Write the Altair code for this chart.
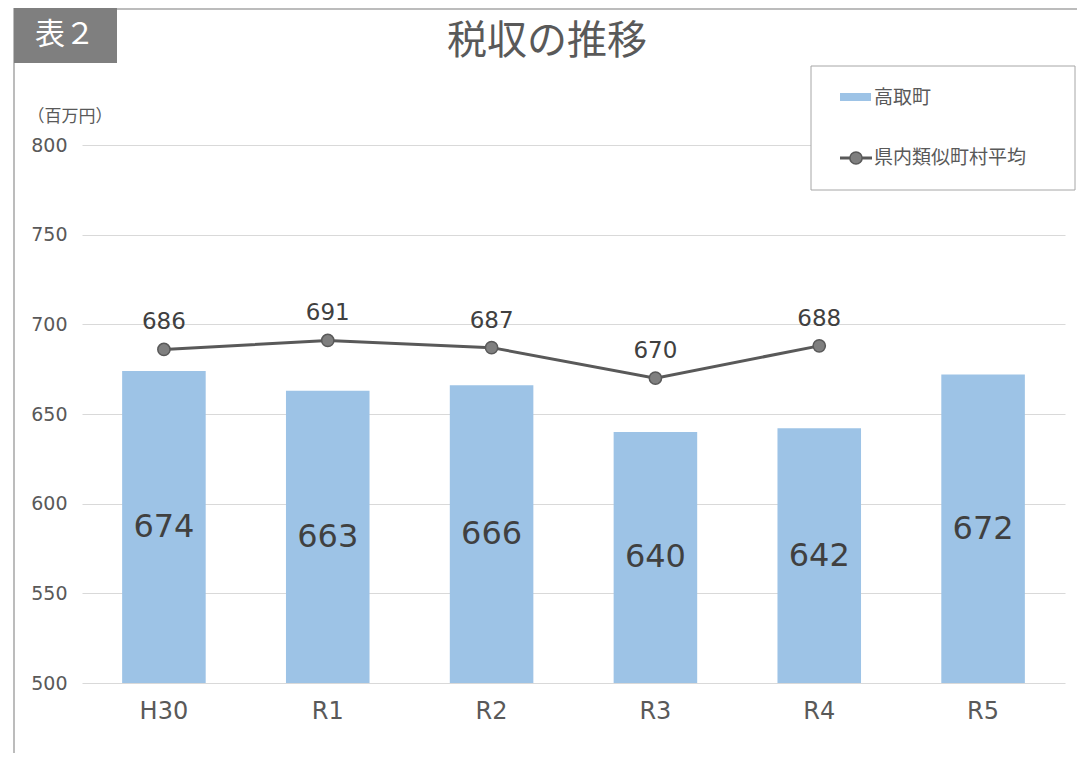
import altair as alt
import pandas as pd

years = ["H30", "R1", "R2", "R3", "R4", "R5"]
town = [674, 663, 666, 640, 642, 672]
avg_years = ["H30", "R1", "R2", "R3", "R4"]
avg = [686, 691, 687, 670, 688]
y_ticks = [500, 550, 600, 650, 700, 750, 800]

FONT = "Noto Sans CJK JP"
NUMFONT = "DejaVu Sans"
GRAY = "#595959"
BAR = "#9DC3E6"

bars_df = pd.DataFrame({"year": years, "value": town})
avg_df = pd.DataFrame({"year": avg_years, "value": avg})
one = pd.DataFrame({"a": [0]})

x_scale = alt.Scale(paddingInner=0.49, paddingOuter=0.245)
y_scale = alt.Scale(domain=[500, 800], nice=False, zero=False)

x_enc = alt.X("year:N", sort=years, scale=x_scale,
              axis=alt.Axis(title=None, labelAngle=0, labelFontSize=24, labelColor=GRAY,
                            labelFont=NUMFONT, labelPadding=16, ticks=False, domain=False,
                            grid=False))
y_enc = alt.Y("value:Q", scale=y_scale,
              axis=alt.Axis(title=None, values=y_ticks, labelFontSize=19, labelColor=GRAY,
                            labelFont=NUMFONT, labelPadding=15, ticks=False, domain=False,
                            gridColor="#D9D9D9", gridWidth=1))
x_plain = alt.X("year:N", sort=years, scale=x_scale)
y_plain = alt.Y("value:Q", scale=y_scale)

bars = alt.Chart(bars_df).mark_bar(color=BAR).encode(x=x_enc, y=y_enc, y2=alt.datum(500))

bar_labels = alt.Chart(bars_df).transform_calculate(
    mid="(datum.value + 500) / 2"
).mark_text(fontSize=32, color="#404040", font=NUMFONT, baseline="middle").encode(
    x=x_plain,
    y=alt.Y("mid:Q", scale=y_scale),
    text="value:Q",
)

line = alt.Chart(avg_df).mark_line(color=GRAY, strokeWidth=3).encode(x=x_plain, y=y_plain)
points = alt.Chart(avg_df).mark_point(filled=True, size=150, fill="#7F7F7F",
                                      stroke=GRAY, strokeWidth=1.5, opacity=1).encode(
    x=x_plain, y=y_plain)
pt_labels = alt.Chart(avg_df).mark_text(fontSize=23, color="#404040", font=NUMFONT, dy=-27,
                                        baseline="middle").encode(
    x=x_plain, y=y_plain, text="value:Q")

# decorations (frame, tag, title, unit label, legend)
frame_left = alt.Chart(one).mark_rule(color="#A6A6A6", strokeWidth=1.5).encode(
    x=alt.value(-68), y=alt.value(-137), y2=alt.value(620))
frame_top = alt.Chart(one).mark_rule(color="#A6A6A6", strokeWidth=1.5).encode(
    x=alt.value(-68), x2=alt.value(995), y=alt.value(-136))
tag = alt.Chart(one).mark_rect(color="#7F7F7F").encode(
    x=alt.value(-68), x2=alt.value(35), y=alt.value(-137), y2=alt.value(-82))
tag_text = alt.Chart(one).mark_text(text="表２", color="white", fontSize=30, font=FONT,
                                    baseline="middle").encode(
    x=alt.value(-17), y=alt.value(-110))
title = alt.Chart(one).mark_text(text="税収の推移", color=GRAY, fontSize=40, font=FONT,
                                 baseline="middle").encode(
    x=alt.value(465), y=alt.value(-103))
unit = alt.Chart(one).mark_text(text="（百万円）", color=GRAY, fontSize=17, font=FONT,
                                baseline="middle").encode(
    x=alt.value(-12), y=alt.value(-28))
leg_box = alt.Chart(one).mark_rect(fill="white", stroke="#A6A6A6", strokeWidth=1).encode(
    x=alt.value(729), x2=alt.value(993), y=alt.value(-79), y2=alt.value(45))
leg_swatch = alt.Chart(one).mark_rect(color=BAR).encode(
    x=alt.value(758), x2=alt.value(789), y=alt.value(-52), y2=alt.value(-44))
leg_t1 = alt.Chart(one).mark_text(text="高取町", color=GRAY, fontSize=19, font=FONT,
                                  align="left", baseline="middle").encode(
    x=alt.value(792), y=alt.value(-47))
leg_line = alt.Chart(one).mark_rule(color=GRAY, strokeWidth=3).encode(
    x=alt.value(758), x2=alt.value(790), y=alt.value(13))
leg_pt = alt.Chart(one).mark_point(filled=True, size=150, fill="#7F7F7F", stroke=GRAY,
                                   strokeWidth=1.5, opacity=1).encode(
    x=alt.value(774), y=alt.value(13))
leg_t2 = alt.Chart(one).mark_text(text="県内類似町村平均", color=GRAY, fontSize=19, font=FONT,
                                  align="left", baseline="middle").encode(
    x=alt.value(792), y=alt.value(13))

chart = alt.layer(
    bars, bar_labels, line, points, pt_labels,
    frame_left, frame_top, tag, tag_text, title, unit,
    leg_box, leg_swatch, leg_t1, leg_line, leg_pt, leg_t2,
).properties(
    width=983, height=538,
    background="white",
    autosize=alt.AutoSizeParams(type="none"),
    padding={"left": 74, "top": 137, "right": 12, "bottom": 70},
).configure_view(strokeWidth=0, stroke="transparent").configure_axis(
    domain=False, ticks=False
)

chart.save("out.html", embed_options={"renderer": "svg", "actions": False})
